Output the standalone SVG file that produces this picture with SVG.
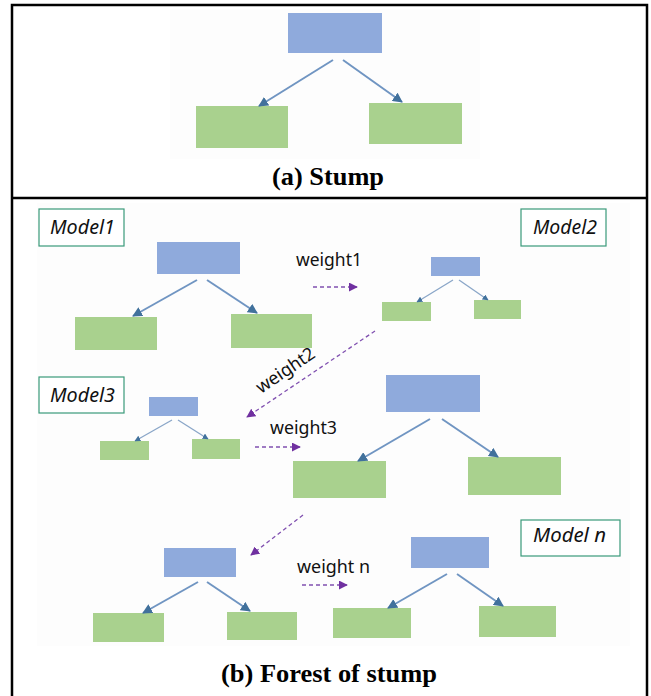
<svg xmlns="http://www.w3.org/2000/svg" width="651" height="696" viewBox="0 0 651 696">
<style>
.blue{fill:#8FAADC}
.green{fill:#A9D18E}
.edge{stroke:#7095C2;stroke-width:2;fill:none}
.edge-s{stroke:#8AA6C8;stroke-width:1.3;fill:none}
.dash{stroke:#8050B0;stroke-width:1.3;stroke-dasharray:4 3;fill:none}
.lbl{fill:#fff;stroke:#3A9A7A;stroke-width:1.2}
.mt{font-family:"Noto Sans","Open Sans",sans-serif;font-style:italic;font-size:19px;fill:#111}
.wt{font-family:"Noto Sans","Open Sans",sans-serif;font-size:18px;fill:#111}
.cap{font-family:"Liberation Serif","Times New Roman",serif;font-weight:bold;font-size:26px;fill:#000;text-anchor:middle}
.frame{stroke:#000;stroke-width:2.5;fill:none}
</style>
<defs>
<marker id="ah" viewBox="0 0 10 10" refX="9" refY="5" markerWidth="10" markerHeight="10" markerUnits="userSpaceOnUse" orient="auto"><path d="M0,0 L10,5 L0,10 z" fill="#41719C"/></marker>
<marker id="ahs" viewBox="0 0 10 10" refX="9" refY="5" markerWidth="6" markerHeight="6" markerUnits="userSpaceOnUse" orient="auto"><path d="M0,0 L10,5 L0,10 z" fill="#41719C"/></marker>
<marker id="pm" viewBox="0 0 10 10" refX="9" refY="5" markerWidth="9" markerHeight="9" markerUnits="userSpaceOnUse" orient="auto"><path d="M0,0 L10,5 L0,10 z" fill="#7030A0"/></marker>
</defs>
<rect width="651" height="696" fill="#fff"/>
<rect x="170" y="9" width="310" height="150" fill="#fdfdfd"/>
<rect x="37" y="203" width="593" height="443" fill="#fdfdfd"/>
<g id="frame">
<path class="frame" d="M12,696 V5 H647 V696"/>
<path class="frame" d="M12,198 H647"/>
</g>
<g id="stump">
<rect id="stump-root" class="blue" x="288" y="13" width="94" height="40"/>
<rect id="stump-left" class="green" x="196" y="106" width="92" height="42"/>
<rect id="stump-right" class="green" x="369" y="103" width="93" height="41"/>
</g>
<g id="model1">
<rect class="lbl" x="39" y="209" width="85" height="37"/>
<text class="mt" x="50" y="234" textLength="65" lengthAdjust="spacingAndGlyphs">Model1</text>
<rect class="blue" x="157" y="242" width="83" height="32"/>
<rect class="green" x="75" y="317" width="82" height="33"/>
<rect class="green" x="231" y="314" width="81" height="34"/>
</g>
<g id="model2">
<rect class="lbl" x="521" y="209" width="85" height="37"/>
<text class="mt" x="533" y="234" textLength="64" lengthAdjust="spacingAndGlyphs">Model2</text>
<rect class="blue" x="431" y="257" width="49" height="19"/>
<rect class="green" x="382" y="302" width="49" height="19"/>
<rect class="green" x="474" y="300" width="47" height="19"/>
</g>
<g id="model3">
<rect class="lbl" x="39" y="377" width="85" height="36"/>
<text class="mt" x="50" y="402" textLength="65" lengthAdjust="spacingAndGlyphs">Model3</text>
<rect class="blue" x="149" y="397" width="49" height="19"/>
<rect class="green" x="100" y="441" width="49" height="19"/>
<rect class="green" x="192" y="439" width="48" height="20"/>
</g>
<g id="model4">
<rect class="blue" x="386" y="375" width="94" height="37"/>
<rect class="green" x="293" y="461" width="93" height="37"/>
<rect class="green" x="468" y="457" width="93" height="38"/>
</g>
<g id="model5">
<rect class="blue" x="164" y="548" width="72" height="29"/>
<rect class="green" x="93" y="613" width="71" height="29"/>
<rect class="green" x="227" y="612" width="70" height="28"/>
</g>
<g id="modeln">
<rect class="lbl" x="521" y="520" width="99" height="36"/>
<text class="mt" x="533" y="542" textLength="73" lengthAdjust="spacingAndGlyphs">Model n</text>
<rect class="blue" x="411" y="537" width="78" height="31"/>
<rect class="green" x="333" y="608" width="78" height="30"/>
<rect class="green" x="479" y="606" width="77" height="31"/>
</g>
<g id="connectors">
<line class="edge" x1="333" y1="60" x2="259" y2="106" marker-end="url(#ah)"/>
<line class="edge" x1="343" y1="60" x2="402" y2="102" marker-end="url(#ah)"/>
<line class="edge" x1="197" y1="280" x2="133" y2="316" marker-end="url(#ah)"/>
<line class="edge" x1="207" y1="280" x2="257" y2="313" marker-end="url(#ah)"/>
<line class="edge-s" x1="453" y1="280" x2="417" y2="302" marker-end="url(#ahs)"/>
<line class="edge-s" x1="459" y1="280" x2="488" y2="300" marker-end="url(#ahs)"/>
<line class="edge-s" x1="172" y1="420" x2="135" y2="441" marker-end="url(#ahs)"/>
<line class="edge-s" x1="178" y1="420" x2="208" y2="439" marker-end="url(#ahs)"/>
<line class="edge" x1="430" y1="419" x2="358" y2="461" marker-end="url(#ah)"/>
<line class="edge" x1="442" y1="419" x2="498" y2="457" marker-end="url(#ah)"/>
<line class="edge" x1="198" y1="582" x2="143" y2="613" marker-end="url(#ah)"/>
<line class="edge" x1="207" y1="582" x2="250" y2="611" marker-end="url(#ah)"/>
<line class="edge" x1="447" y1="574" x2="388" y2="608" marker-end="url(#ah)"/>
<line class="edge" x1="457" y1="574" x2="503" y2="606" marker-end="url(#ah)"/>
<line class="dash" x1="313" y1="287" x2="357" y2="287" marker-end="url(#pm)"/>
<line class="dash" x1="375" y1="331" x2="247" y2="417" marker-end="url(#pm)"/>
<line class="dash" x1="255" y1="447" x2="300" y2="447" marker-end="url(#pm)"/>
<line class="dash" x1="303" y1="515" x2="251" y2="555" marker-end="url(#pm)"/>
<line class="dash" x1="302" y1="585" x2="347" y2="585" marker-end="url(#pm)"/>
</g>
<g id="labels">
<text class="wt" x="296" y="266" textLength="66" lengthAdjust="spacingAndGlyphs">weight1</text>
<text class="wt" transform="translate(261,394) rotate(-34)" textLength="67" lengthAdjust="spacingAndGlyphs">weight2</text>
<text class="wt" x="270" y="434" textLength="67" lengthAdjust="spacingAndGlyphs">weight3</text>
<text class="wt" x="297" y="573" textLength="73" lengthAdjust="spacingAndGlyphs">weight n</text>
<text class="cap" x="328" y="185" textLength="112" lengthAdjust="spacingAndGlyphs">(a) Stump</text>
<text class="cap" x="329" y="682" textLength="216" lengthAdjust="spacingAndGlyphs">(b) Forest of stump</text>
</g>
</svg>
